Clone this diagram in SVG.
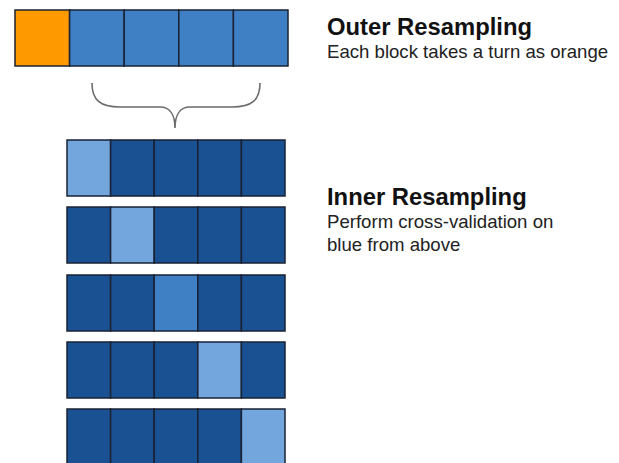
<svg xmlns="http://www.w3.org/2000/svg" width="619" height="463" viewBox="0 0 619 463">
<style>
.c{stroke:#1a2233;stroke-width:1.5}
.o{fill:#ff9900}
.m{fill:#3f7fc4}
.d{fill:#1a5192}
.l{fill:#72a6dc}
.h{font-family:"Liberation Sans",Arial,sans-serif;font-weight:bold;font-size:23.8px;fill:#111}
.t{font-family:"Liberation Sans",Arial,sans-serif;font-size:18.6px;fill:#222}
</style>
<rect width="619" height="463" fill="#fff"/>
<g id="outer">
<rect class="c o" x="15" y="10" width="54.6" height="56"/>
<rect class="c m" x="69.6" y="10" width="54.6" height="56"/>
<rect class="c m" x="124.2" y="10" width="54.6" height="56"/>
<rect class="c m" x="178.8" y="10" width="54.6" height="56"/>
<rect class="c m" x="233.4" y="10" width="54.6" height="56"/>
</g>
<g id="connectors">
<path d="M92,83 C92,100 100,107 120,107 L160,107 C170,107 175,115 175,128 C175,115 180,107 190,107 L232,107 C252,107 260,100 260,83" fill="none" stroke="#6b6b6b" stroke-width="1.6"/>
</g>
<g id="inner1">
<rect class="c l" x="67" y="140" width="43.6" height="56"/>
<rect class="c d" x="110.6" y="140" width="43.6" height="56"/>
<rect class="c d" x="154.2" y="140" width="43.6" height="56"/>
<rect class="c d" x="197.8" y="140" width="43.6" height="56"/>
<rect class="c d" x="241.4" y="140" width="43.6" height="56"/>
</g>
<g id="inner2">
<rect class="c d" x="67" y="207" width="43.6" height="56"/>
<rect class="c l" x="110.6" y="207" width="43.6" height="56"/>
<rect class="c d" x="154.2" y="207" width="43.6" height="56"/>
<rect class="c d" x="197.8" y="207" width="43.6" height="56"/>
<rect class="c d" x="241.4" y="207" width="43.6" height="56"/>
</g>
<g id="inner3">
<rect class="c d" x="67" y="275" width="43.6" height="56"/>
<rect class="c d" x="110.6" y="275" width="43.6" height="56"/>
<rect class="c m" x="154.2" y="275" width="43.6" height="56"/>
<rect class="c d" x="197.8" y="275" width="43.6" height="56"/>
<rect class="c d" x="241.4" y="275" width="43.6" height="56"/>
</g>
<g id="inner4">
<rect class="c d" x="67" y="342" width="43.6" height="56"/>
<rect class="c d" x="110.6" y="342" width="43.6" height="56"/>
<rect class="c d" x="154.2" y="342" width="43.6" height="56"/>
<rect class="c l" x="197.8" y="342" width="43.6" height="56"/>
<rect class="c d" x="241.4" y="342" width="43.6" height="56"/>
</g>
<g id="inner5">
<rect class="c d" x="67" y="409" width="43.6" height="60"/>
<rect class="c d" x="110.6" y="409" width="43.6" height="60"/>
<rect class="c d" x="154.2" y="409" width="43.6" height="60"/>
<rect class="c d" x="197.8" y="409" width="43.6" height="60"/>
<rect class="c l" x="241.4" y="409" width="43.6" height="60"/>
</g>
<g id="outer-label">
<text class="h" x="327" y="35">Outer Resampling</text>
<text class="t" x="327" y="58">Each block takes a turn as orange</text>
</g>
<g id="inner-label">
<text class="h" x="327" y="205">Inner Resampling</text>
<text class="t" x="327" y="228">Perform cross-validation on</text>
<text class="t" x="327" y="251">blue from above</text>
</g>
</svg>
